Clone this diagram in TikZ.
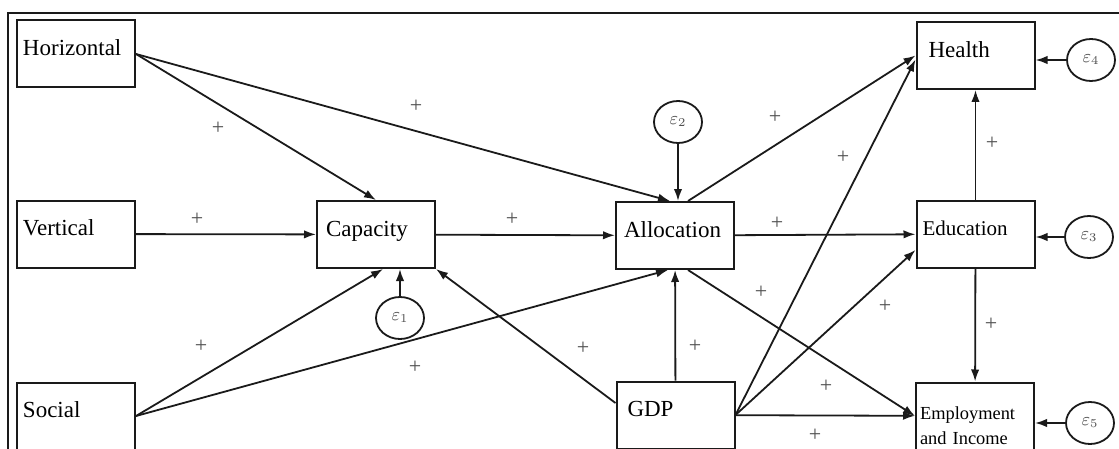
\documentclass[tikz,border=0pt]{standalone}
\usepackage{fontspec}
\setmainfont{Liberation Serif}
\usetikzlibrary{arrows.meta,shapes.geometric,calc}
\definecolor{rand}{HTML}{1A1A1A}
\definecolor{zgrau}{HTML}{505050}
\tikzset{
  vbox/.style={draw=rand,line width=1pt,minimum width=59pt,minimum height=33.5pt,
    text width=53pt,inner xsep=3pt,align=left,text depth=6pt,
    font=\fontsize{11.5}{13}\selectfont},
  eps/.style={ellipse,draw=rand,line width=0.9pt,minimum width=24pt,minimum height=21pt,
    inner sep=0pt,text=zgrau,font=\small},
  pfeil/.style={-{Latex[length=6pt,width=4.2pt]},rand,line width=0.9pt},
  sgn/.style={text=zgrau,font=\fontsize{11}{11}\selectfont,inner sep=0pt},
}

\begin{document}
\begin{tikzpicture}[x=0.5pt,y=-0.5pt]
  \clip (0,0) rectangle (1119,449);
  % frame
  \draw[rand,line width=1pt] (8,449) -- (8,13) -- (1119,13);

  % variables
  \node[vbox] (hor) at (76,54) {Horizontal};
  \node[vbox] (ver) at (76,234) {Vertical};
  \node[vbox] (soc) at (76,416) {Social};
  \node[vbox] (cap) at (376,234.5) {\hspace*{1.5pt}Capacity};
  \node[vbox] (alloc) at (675,235.5) {\hspace*{1pt}Allocation};
  \node[vbox] (gdp) at (675.5,415) {\hspace*{2.5pt}GDP};
  \node[vbox] (health) at (975.5,55.5) {\hspace*{3pt}Health};
  \node[vbox,font=\fontsize{10.5}{12}\selectfont] (edu) at (975.5,234) {Education};
  \node[vbox,text depth=3pt,inner xsep=2pt,text width=55pt,
    font=\fontsize{9.2}{12.5}\selectfont] (emp) at (975,416) {Employment\\and Income};

  % error terms
  \node[eps] (e1) at (400,318) {$\varepsilon_1$};
  \node[eps] (e2) at (678,122) {$\varepsilon_2$};
  \node[eps] (e3) at (1089,237) {$\varepsilon_3$};
  \node[eps] (e4) at (1091,60) {$\varepsilon_4$};
  \node[eps] (e5) at (1090,423) {$\varepsilon_5$};

  % paths
  \draw[pfeil] (hor.east) -- (cap.north);
  \draw[pfeil] (hor.east) -- ([xshift=-2.5pt]alloc.north);
  \draw[pfeil] (ver) -- (cap);
  \draw[pfeil] (cap) -- (alloc);
  \draw[pfeil] (soc.east) -- ([xshift=3.5pt]cap.south);
  \draw[pfeil] (soc.east) -- ([xshift=-3.5pt]alloc.south);
  \draw[pfeil] ([yshift=6pt]gdp.west) -- (cap.south east);
  \draw[pfeil] (gdp) -- (alloc);
  \draw[pfeil] ([xshift=6.5pt]alloc.north) -- (health.west);
  \draw[pfeil] (alloc) -- (edu);
  \draw[pfeil] ([xshift=6.5pt]alloc.south) -- (emp.west);
  \draw[pfeil] (gdp.east) -- ([yshift=-2pt]health.west);
  \draw[pfeil] (gdp.east) -- ([yshift=-8pt]edu.west);
  \draw[pfeil] (gdp) -- (emp);
  \draw[pfeil] (edu) -- (health);
  \draw[pfeil] (edu) -- (emp);
  \draw[pfeil] (e1.north) -- (e1.north |- cap.south);
  \draw[pfeil] (e2.south) -- (e2.south |- alloc.north);
  \draw[pfeil] (e3.west) -- (e3.west -| edu.east);
  \draw[pfeil] (e4.west) -- (e4.west -| health.east);
  \draw[pfeil] (e5.west) -- (e5.west -| emp.east);

  % signs
  \foreach \px/\py [count=\i] in {218/128, 416/106, 197/219, 512/219, 201/346,
      415/367, 583/348, 695/346, 775/117, 843/157, 777/223, 761/292, 885/306,
      826/386, 815/435, 992/143, 991/324}
    \node[sgn] (s\i) at (\px,\py) {+};
\end{tikzpicture}
\end{document}
